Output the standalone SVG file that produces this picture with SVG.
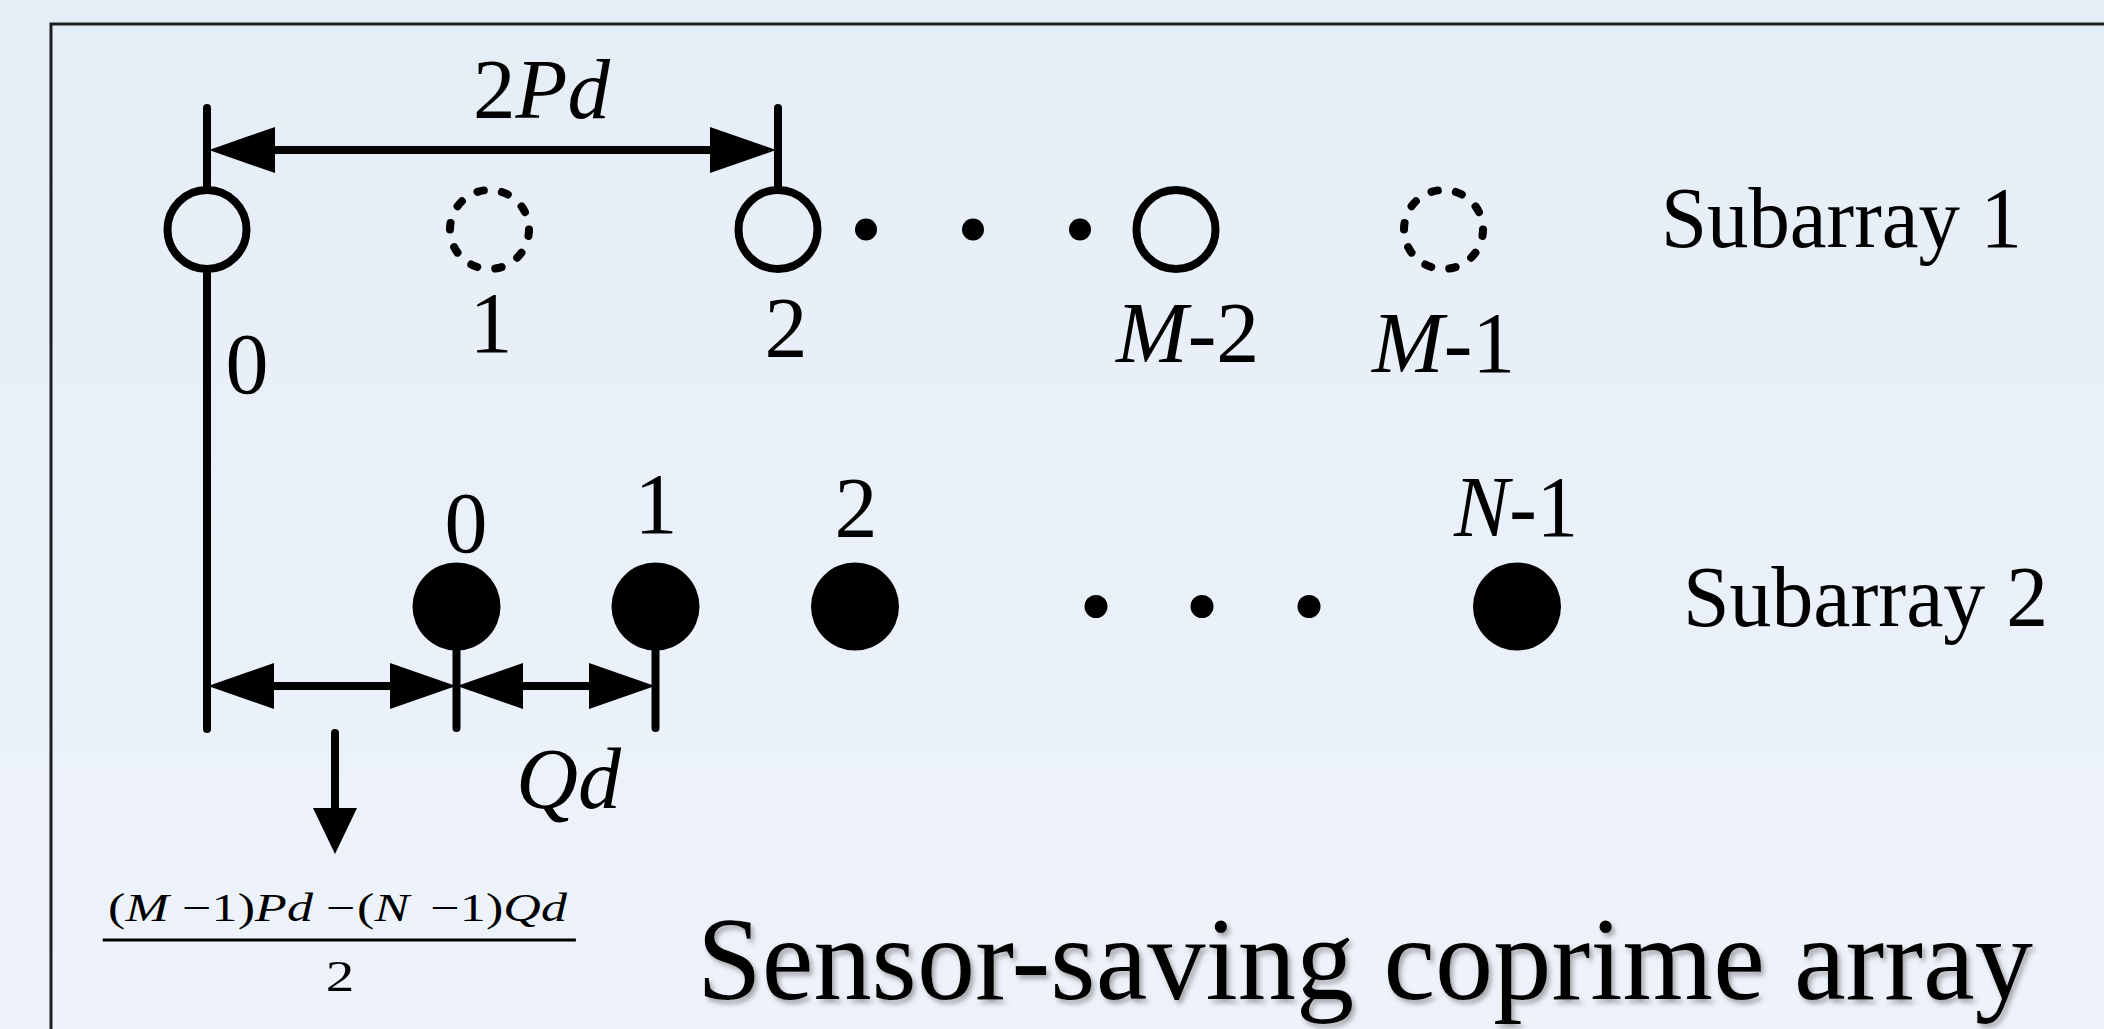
<svg xmlns="http://www.w3.org/2000/svg" width="2104" height="1029" viewBox="0 0 2104 1029">
<defs>
<linearGradient id="bg" x1="0" y1="0" x2="0" y2="1">
<stop offset="0" stop-color="#E5EDF7"/>
<stop offset="1" stop-color="#EEF3FB"/>
</linearGradient>
<marker id="ah" viewBox="0 0 66 46" refX="0" refY="23" markerWidth="66" markerHeight="46" markerUnits="userSpaceOnUse" orient="auto-start-reverse">
<path d="M0,0 L66,23 L0,46 Z" fill="#000"/>
</marker>
<marker id="ahd" viewBox="0 0 46 44" refX="0" refY="22" markerWidth="46" markerHeight="44" markerUnits="userSpaceOnUse" orient="auto">
<path d="M0,0 L46,22 L0,44 Z" fill="#000"/>
</marker>
<filter id="shadow" x="-5%" y="-20%" width="110%" height="150%">
<feDropShadow dx="3" dy="4" stdDeviation="2.5" flood-color="#6a6a6a" flood-opacity="0.55"/>
</filter>
<style>
.t{font-family:"Liberation Serif","Times New Roman",serif;fill:#000}
.lab{font-size:86px}
.it{font-style:italic}
.ln{stroke:#000;stroke-width:8;fill:none;stroke-linecap:round}
.dim{stroke:#000;stroke-width:8;fill:none}
.open{fill:none;stroke:#000;stroke-width:8}
.dash{fill:none;stroke:#000;stroke-width:8;stroke-dasharray:6.5 18.3;stroke-linecap:round}
.solid{fill:#000}
</style>
</defs>
<rect x="0" y="0" width="2104" height="1029" fill="url(#bg)"/>
<path d="M51,1040 V24 H2110" fill="none" stroke="#1e1e1e" stroke-width="3"/>

<g id="connectors">
<line class="ln" x1="207" y1="108" x2="207" y2="189"/>
<line class="ln" x1="207" y1="270" x2="207" y2="729"/>
<line class="ln" x1="778" y1="108" x2="778" y2="189"/>
<line class="dim" x1="275" y1="150" x2="710" y2="150" marker-start="url(#ah)" marker-end="url(#ah)"/>
<line class="ln" x1="456.5" y1="640" x2="456.5" y2="728"/>
<line class="ln" x1="655.5" y1="640" x2="655.5" y2="728"/>
<line class="dim" x1="274" y1="686" x2="390" y2="686" marker-start="url(#ah)" marker-end="url(#ah)"/>
<line class="dim" x1="523" y1="686" x2="589" y2="686" marker-start="url(#ah)" marker-end="url(#ah)"/>
<line class="dim" x1="335" y1="733" x2="335" y2="808" marker-end="url(#ahd)" stroke-linecap="round"/>
</g>

<g id="sub1-0"><circle class="open" cx="207" cy="229.5" r="39.5"/><text class="t lab" x="247" y="393" text-anchor="middle">0</text></g>
<g id="sub1-1"><circle class="dash" cx="489.5" cy="229.5" r="39.5"/><text class="t lab" x="491" y="352" text-anchor="middle">1</text></g>
<g id="sub1-2"><circle class="open" cx="778" cy="229.5" r="39.5"/><text class="t lab" x="786" y="357" text-anchor="middle">2</text></g>
<g id="sub1-dots"><circle class="solid" cx="866" cy="229.5" r="11"/><circle class="solid" cx="973" cy="229.5" r="11"/><circle class="solid" cx="1080" cy="229.5" r="11"/></g>
<g id="sub1-M2"><circle class="open" cx="1176" cy="229.5" r="39.5"/><text class="t lab" x="1116" y="362"><tspan class="it">M</tspan>-2</text></g>
<g id="sub1-M1"><circle class="dash" cx="1443.5" cy="229.5" r="39.5"/><text class="t lab" x="1372" y="372"><tspan class="it">M</tspan>-1</text></g>
<g id="label-sub1"><text class="t lab" x="1661" y="247" textLength="361" lengthAdjust="spacingAndGlyphs">Subarray 1</text></g>

<g id="dim-2Pd"><text class="t" x="473" y="118" font-size="85">2<tspan class="it">Pd</tspan></text></g>

<g id="sub2-0"><circle class="solid" cx="456.5" cy="606.5" r="44"/><text class="t lab" x="466" y="552" text-anchor="middle">0</text></g>
<g id="sub2-1"><circle class="solid" cx="655.5" cy="606.5" r="44"/><text class="t lab" x="656" y="533" text-anchor="middle">1</text></g>
<g id="sub2-2"><circle class="solid" cx="855" cy="606.5" r="44"/><text class="t lab" x="856" y="537" text-anchor="middle">2</text></g>
<g id="sub2-dots"><circle class="solid" cx="1096" cy="606.5" r="11.5"/><circle class="solid" cx="1202" cy="606.5" r="11.5"/><circle class="solid" cx="1309" cy="606.5" r="11.5"/></g>
<g id="sub2-N1"><circle class="solid" cx="1517" cy="606.5" r="44"/><text class="t lab" x="1454" y="536" textLength="124" lengthAdjust="spacingAndGlyphs"><tspan class="it">N</tspan>-1</text></g>
<g id="label-sub2"><text class="t lab" x="1683" y="626" textLength="365" lengthAdjust="spacingAndGlyphs">Subarray 2</text></g>

<g id="dim-Qd"><text class="t lab it" x="516" y="808">Qd</text></g>

<g id="formula" transform="matrix(1.3,0,0,1,0,0)">
<text class="t" y="921" font-size="40"><tspan x="83.1">(</tspan><tspan x="96.5" class="it">M</tspan><tspan x="140">−</tspan><tspan x="162.7">1</tspan><tspan x="182.8">)</tspan><tspan x="196.2" class="it">P</tspan><tspan x="220.7" class="it">d</tspan><tspan x="250.8">−</tspan><tspan x="274.6">(</tspan><tspan x="288" class="it">N</tspan><tspan x="331">−</tspan><tspan x="353.7">1</tspan><tspan x="373.8">)</tspan><tspan x="387.2" class="it">Q</tspan><tspan x="416.2" class="it">d</tspan></text>
<line x1="79" y1="940" x2="443" y2="940" stroke="#000" stroke-width="3"/>
<text class="t" x="261.5" y="991" font-size="44" text-anchor="middle">2</text>
</g>

<g id="title"><text class="t" x="697" y="999" font-size="118" textLength="1336" lengthAdjust="spacingAndGlyphs" filter="url(#shadow)">Sensor-saving coprime array</text></g>
</svg>
